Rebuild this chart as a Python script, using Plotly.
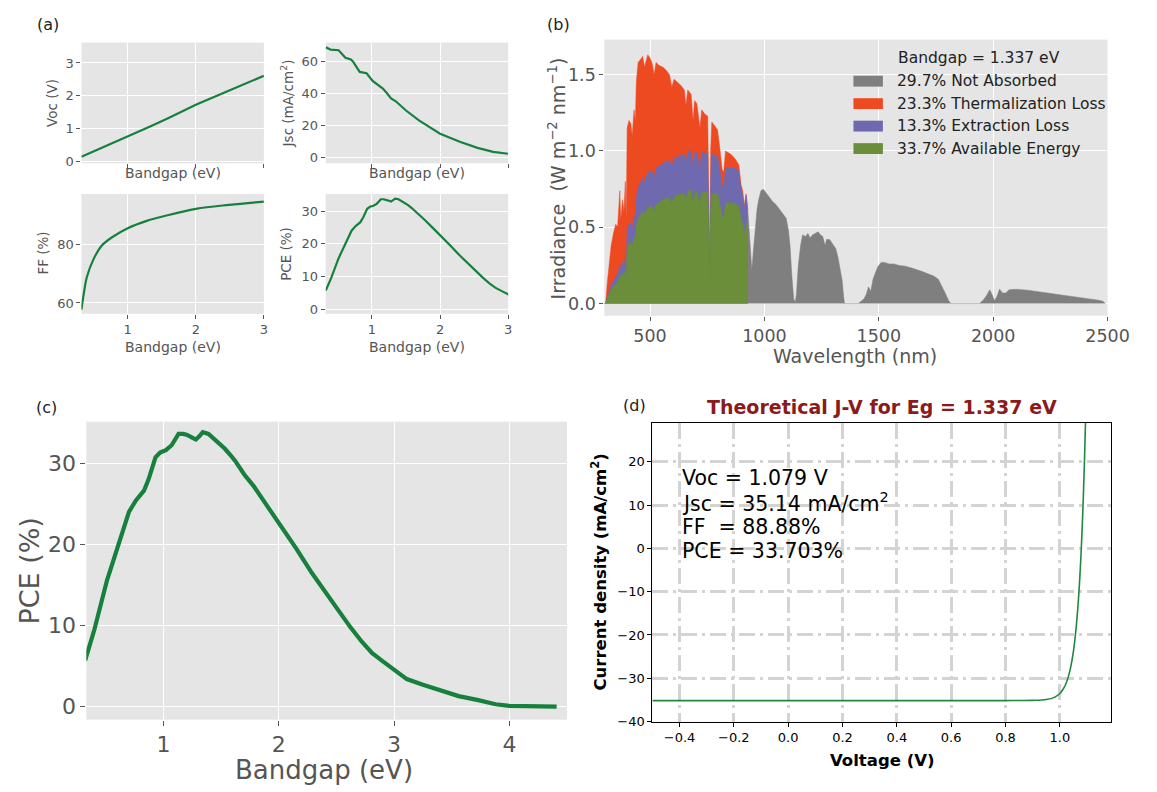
import plotly.graph_objects as go

W, H = 1157, 792
def fx(p): return p / W
def fy(p): return 1 - p / H

FONT = "DejaVu Sans"
GREY_TXT = "#555555"
BG = "#E5E5E5"

# ---------------- data: panel (a) ----------------
eg_voc = [0.32, 0.6, 1.0, 1.337, 1.6, 2.0, 2.5, 3.0]
voc = [0.15, 0.40, 0.77, 1.079, 1.33, 1.73, 2.17, 2.61]

eg_jsc = [0.32, 0.39, 0.51, 0.55, 0.61, 0.69, 0.72, 0.82, 0.88, 0.92, 1.01, 1.09,
          1.16, 1.22, 1.28, 1.35, 1.5, 1.69, 2.0, 2.3, 2.55, 2.78, 3.0]
jsc = [68.9, 67.4, 67.0, 65.0, 62.3, 61.2, 60.0, 53.4, 52.8, 52.6, 47.8, 45.1,
       43.0, 40.0, 36.8, 35.0, 29.2, 23.0, 14.7, 9.5, 5.8, 3.3, 2.1]

eg_ff = [0.32, 0.355, 0.40, 0.5, 0.62, 0.77, 1.0, 1.29, 1.53, 2.0, 2.49, 3.0]
ff = [57.7, 63.2, 68.9, 75.1, 79.7, 82.5, 85.6, 88.2, 89.7, 92.2, 93.6, 94.7]

eg_pce = [0.32, 0.40, 0.51, 0.62, 0.70, 0.76, 0.83, 0.87, 0.93, 0.97, 1.02, 1.07,
          1.10, 1.13, 1.17, 1.20, 1.24, 1.28, 1.31, 1.34, 1.39, 1.45, 1.53, 1.58,
          1.62, 1.70, 1.78, 1.90, 2.0, 2.15, 2.29, 2.45, 2.62, 2.72, 2.81, 2.90,
          3.0, 3.11, 3.25, 3.41, 3.56, 3.73, 3.88, 4.0, 4.2, 4.41]
pce = [5.7, 9.5, 15.6, 20.5, 24.0, 25.4, 26.6, 28.0, 30.7, 31.3, 31.6, 32.2,
       33.0, 33.6, 33.6, 33.5, 33.2, 32.9, 33.3, 33.8, 33.6, 32.9, 31.8, 31.0,
       30.3, 28.6, 27.2, 24.7, 22.7, 19.5, 16.4, 13.1, 9.8, 8.0, 6.6, 5.6,
       4.5, 3.4, 2.7, 2.0, 1.3, 0.8, 0.3, 0.1, 0.0, 0.0]

# ---------------- data: panel (b) ----------------
wl_abs = [300, 306, 312, 320, 330, 340, 350, 358, 362, 368, 372, 380, 386, 392, 396,
          400, 408, 416, 422, 430, 436, 440, 448, 458, 468, 476, 486, 490, 500, 510,
          518, 526, 540, 555, 570, 585, 595, 605, 620, 635, 650, 657, 665, 680, 688,
          695, 705, 718, 726, 740, 752, 758, 761, 765, 770, 785, 795, 805, 815, 822,
          830, 840, 852, 865, 876, 888, 898, 905, 912, 920, 927]
irr_total = [0, 0.0, 0.12, 0.22, 0.38, 0.46, 0.52, 0.50, 0.62, 0.74, 0.55, 0.68, 0.60, 0.80, 0.55,
             1.15, 1.20, 1.18, 1.10, 1.27, 1.20, 1.45, 1.58, 1.60, 1.62, 1.55, 1.62, 1.63, 1.61, 1.57,
             1.50, 1.58, 1.56, 1.55, 1.53, 1.50, 1.42, 1.47, 1.45, 1.43, 1.40, 1.30, 1.40, 1.37, 1.20,
             1.33, 1.31, 1.15, 1.27, 1.24, 1.23, 0.60, 0.25, 1.00, 1.19, 1.16, 1.14, 1.02, 0.88, 0.86,
             1.00, 0.99, 0.98, 0.96, 0.94, 0.91, 0.78, 0.74, 0.64, 0.72, 0.62]
irr_extract_top = [0, 0.0, 0.04, 0.08, 0.12, 0.15, 0.18, 0.19, 0.22, 0.26, 0.22, 0.27, 0.25, 0.30, 0.24,
                   0.50, 0.52, 0.53, 0.49, 0.58, 0.56, 0.70, 0.76, 0.79, 0.82, 0.80, 0.85, 0.86, 0.87, 0.86,
                   0.83, 0.89, 0.90, 0.92, 0.93, 0.94, 0.90, 0.95, 0.96, 0.97, 0.98, 0.92, 1.00, 1.00, 0.89,
                   0.99, 0.99, 0.89, 1.00, 0.98, 0.99, 0.49, 0.20, 0.82, 0.98, 0.97, 0.97, 0.88, 0.77, 0.76,
                   0.89, 0.89, 0.89, 0.89, 0.88, 0.87, 0.75, 0.72, 0.62, 0.71, 0.62]
irr_available = [0, 0.0, 0.03, 0.06, 0.09, 0.11, 0.13, 0.14, 0.16, 0.19, 0.16, 0.20, 0.19, 0.22, 0.18,
                 0.37, 0.39, 0.40, 0.37, 0.44, 0.42, 0.51, 0.56, 0.58, 0.60, 0.59, 0.62, 0.63, 0.64, 0.63,
                 0.61, 0.65, 0.66, 0.68, 0.69, 0.69, 0.66, 0.70, 0.71, 0.72, 0.72, 0.68, 0.74, 0.74, 0.66,
                 0.73, 0.73, 0.66, 0.73, 0.73, 0.73, 0.36, 0.15, 0.60, 0.72, 0.72, 0.72, 0.65, 0.57, 0.56,
                 0.66, 0.66, 0.66, 0.66, 0.65, 0.64, 0.56, 0.53, 0.46, 0.53, 0.46]

wl_na = [927, 935, 940, 945, 952, 960, 968, 975, 985, 995, 1005, 1020, 1035, 1050, 1065, 1080,
         1095, 1105, 1112, 1120, 1128, 1135, 1140, 1148, 1158, 1167, 1180, 1190, 1200, 1210, 1222,
         1235, 1245, 1255, 1265, 1272, 1285, 1300, 1312, 1322, 1332, 1340, 1346, 1350, 1410, 1420,
         1435, 1445, 1455, 1465, 1475, 1485, 1495, 1510, 1525, 1545, 1565, 1590, 1615, 1640, 1665,
         1690, 1715, 1740, 1760, 1775, 1790, 1805, 1815, 1940, 1955, 1970, 1985, 1995, 2005, 2015,
         2028, 2040, 2055, 2070, 2100, 2150, 2200, 2250, 2300, 2350, 2400, 2430, 2460, 2480, 2490]
irr_na = [0.62, 0.45, 0.30, 0.22, 0.35, 0.50, 0.62, 0.68, 0.74, 0.75, 0.73, 0.70, 0.67, 0.65, 0.62, 0.59,
          0.56, 0.48, 0.38, 0.18, 0.03, 0.01, 0.06, 0.25, 0.38, 0.45, 0.44, 0.46, 0.43, 0.45, 0.46,
          0.47, 0.45, 0.44, 0.38, 0.42, 0.42, 0.39, 0.36, 0.30, 0.22, 0.15, 0.05, 0.0, 0.0, 0.01,
          0.03, 0.06, 0.11, 0.08, 0.16, 0.20, 0.24, 0.27, 0.27, 0.26, 0.26, 0.25, 0.245, 0.235, 0.225,
          0.21, 0.195, 0.18, 0.16, 0.12, 0.07, 0.02, 0.0, 0.0, 0.02, 0.05, 0.09, 0.06, 0.02, 0.04,
          0.095, 0.07, 0.07, 0.09, 0.094, 0.088, 0.078, 0.066, 0.057, 0.045, 0.034, 0.03, 0.022, 0.015, 0.0]

legend_labels = ["29.7% Not Absorbed", "23.3% Thermalization Loss",
                 "13.3% Extraction Loss", "33.7% Available Energy"]
legend_colors = ["#7f7f7f", "#ee4a22", "#6f6ab0", "#6b8e3a"]

# ---------------- data: panel (d) ----------------
volt = [-0.5, 0.8, 0.9, 0.95, 0.98, 1.0, 1.01, 1.02, 1.03, 1.04, 1.05, 1.06, 1.07,
        1.079, 1.085, 1.09, 1.095, 1.1]
jdens = [-35.14, -35.14, -35.1, -34.9, -34.4, -33.5, -32.7, -31.6, -29.9, -27.4, -23.8,
         -18.3, -10.4, 0.0, 9.3, 18.8, 30.3, 44.3]
jv_text = ["Voc = 1.079 V", "Jsc = 35.14 mA/cm<sup>2</sup>", "FF  = 88.88%", "PCE = 33.703%"]

LINE_GREEN = "#17803d"

fig = go.Figure()

fig.add_trace(go.Scatter(x=eg_voc, y=voc, mode="lines", line=dict(color=LINE_GREEN, width=2.2),
                         xaxis="x", yaxis="y", showlegend=False))
fig.add_trace(go.Scatter(x=eg_jsc, y=jsc, mode="lines", line=dict(color=LINE_GREEN, width=2.2),
                         xaxis="x2", yaxis="y2", showlegend=False))
fig.add_trace(go.Scatter(x=eg_ff, y=ff, mode="lines", line=dict(color=LINE_GREEN, width=2.2, shape="spline"),
                         xaxis="x3", yaxis="y3", showlegend=False))
fig.add_trace(go.Scatter(x=eg_pce, y=pce, mode="lines", line=dict(color=LINE_GREEN, width=2.2),
                         xaxis="x4", yaxis="y4", showlegend=False))

fig.add_trace(go.Scatter(x=wl_na, y=irr_na, mode="lines", fill="tozeroy", fillcolor=legend_colors[0],
                         line=dict(color=legend_colors[0], width=0.5), xaxis="x5", yaxis="y5", showlegend=False))
fig.add_trace(go.Scatter(x=wl_abs, y=irr_total, mode="lines", fill="tozeroy", fillcolor=legend_colors[1],
                         line=dict(color=legend_colors[1], width=0.5), xaxis="x5", yaxis="y5", showlegend=False))
fig.add_trace(go.Scatter(x=wl_abs, y=irr_extract_top, mode="lines", fill="tozeroy", fillcolor=legend_colors[2],
                         line=dict(color=legend_colors[2], width=0.5), xaxis="x5", yaxis="y5", showlegend=False))
fig.add_trace(go.Scatter(x=wl_abs, y=irr_available, mode="lines", fill="tozeroy", fillcolor=legend_colors[3],
                         line=dict(color=legend_colors[3], width=0.5), xaxis="x5", yaxis="y5", showlegend=False))

fig.add_trace(go.Scatter(x=eg_pce, y=pce, mode="lines", line=dict(color=LINE_GREEN, width=4.2),
                         xaxis="x6", yaxis="y6", showlegend=False))

fig.add_trace(go.Scatter(x=volt, y=jdens, mode="lines", line=dict(color="#21883f", width=1.6, shape="spline"),
                         xaxis="x7", yaxis="y7", showlegend=False))


def gg_axis(dom, rng, tick_size, **kw):
    d = dict(domain=dom, range=rng, showgrid=True, gridcolor="white", gridwidth=1.1,
             zeroline=False, showline=False, ticks="outside", ticklen=4, tickwidth=1,
             tickcolor=GREY_TXT, tickfont=dict(family=FONT, size=tick_size, color=GREY_TXT))
    d.update(kw)
    return d

box = {
    "voc": (83, 269, 43, 165),
    "jsc": (332, 518, 43, 165),
    "ff": (83, 269, 196, 317),
    "pa": (332, 518, 196, 317),
    "b": (616, 1129, 40, 319),
    "c": (88, 578, 426, 727),
    "d": (665, 1133, 427, 729),
}
def xd(k): return [fx(box[k][0]), fx(box[k][1])]
def yd(k): return [fy(box[k][3]), fy(box[k][2])]

layout = dict(
    width=W, height=H, autosize=False, margin=dict(l=0, r=0, t=0, b=0, pad=0),
    paper_bgcolor="white", plot_bgcolor=BG, showlegend=False,
    font=dict(family=FONT),
    xaxis=gg_axis(xd("voc"), [0.32, 3.0], 13, anchor="y", tickvals=[1, 2, 3], showticklabels=False),
    yaxis=gg_axis(yd("voc"), [-0.05, 3.62], 13, anchor="x", tickvals=[0, 1, 2, 3]),
    xaxis2=gg_axis(xd("jsc"), [0.32, 3.0], 13, anchor="y2", tickvals=[1, 2, 3], showticklabels=False),
    yaxis2=gg_axis(yd("jsc"), [-3.9, 71.8], 13, anchor="x2", tickvals=[0, 20, 40, 60]),
    xaxis3=gg_axis(xd("ff"), [0.32, 3.0], 13, anchor="y3", tickvals=[1, 2, 3]),
    yaxis3=gg_axis(yd("ff"), [56.3, 97.3], 13, anchor="x3", tickvals=[60, 80]),
    xaxis4=gg_axis(xd("pa"), [0.32, 3.0], 13, anchor="y4", tickvals=[1, 2, 3]),
    yaxis4=gg_axis(yd("pa"), [-1.4, 35.2], 13, anchor="x4", tickvals=[0, 10, 20, 30]),
    xaxis5=gg_axis(xd("b"), [300, 2500], 17.5, anchor="y5", tickvals=[500, 1000, 1500, 2000, 2500]),
    yaxis5=gg_axis(yd("b"), [-0.08, 1.73], 17.5, anchor="x5", tickvals=[0, 0.5, 1.0, 1.5], tickformat=".1f"),
    xaxis6=gg_axis(xd("c"), [0.33, 4.5], 22, anchor="y6", tickvals=[1, 2, 3, 4], ticklen=5),
    yaxis6=gg_axis(yd("c"), [-1.6, 35.1], 22, anchor="x6", tickvals=[0, 10, 20, 30], ticklen=5),
    xaxis7=dict(domain=xd("d"), range=[-0.5, 1.19], anchor="y7",
                tickvals=[-0.4, -0.2, 0.0, 0.2, 0.4, 0.6, 0.8, 1.0], tickformat=".1f",
                showgrid=True, gridcolor="#d3d3d3", gridwidth=3, griddash="16px,5px,3px,5px",
                zeroline=False, showline=True, mirror=True, linecolor="black", linewidth=1,
                ticks="outside", ticklen=4, tickcolor="black",
                tickfont=dict(family=FONT, size=13, color="black")),
    yaxis7=dict(domain=yd("d"), range=[-40, 29], anchor="x7", dtick=10, tick0=0,
                showgrid=True, gridcolor="#d3d3d3", gridwidth=3, griddash="16px,5px,3px,5px",
                zeroline=False, showline=True, mirror=True, linecolor="black", linewidth=1,
                ticks="outside", ticklen=4, tickcolor="black",
                tickfont=dict(family=FONT, size=13, color="black")),
)

shapes = []
l, r, t, b = box["d"]
shapes.append(dict(type="rect", xref="paper", yref="paper", x0=fx(l), x1=fx(r), y0=fy(b), y1=fy(t),
                   fillcolor="white", line=dict(width=0), layer="below"))

annotations = []
def ann(text, x, y, size, color=GREY_TXT, angle=0, xanchor="center", yanchor="middle", bold=False):
    if bold:
        text = "<b>" + text + "</b>"
    annotations.append(dict(text=text, x=fx(x), y=fy(y), xref="paper", yref="paper",
                            showarrow=False, textangle=angle, xanchor=xanchor, yanchor=yanchor,
                            font=dict(family=FONT, size=size, color=color)))

ann("(a)", 49, 25, 16, color="#222222")
ann("(b)", 569, 25, 16, color="#222222")
ann("(c)", 47, 412, 16, color="#222222")
ann("(d)", 647, 410, 16, color="#222222")

ann("Voc (V)", 53, 104, 13.5, angle=-90)
ann("Jsc (mA/cm<sup>2</sup>)", 293, 104, 13.5, angle=-90)
ann("FF (%)", 44, 256, 13.5, angle=-90)
ann("PCE (%)", 292, 256, 13.5, angle=-90)
ann("Bandgap (eV)", 176, 175, 14)
ann("Bandgap (eV)", 425, 175, 14)
ann("Bandgap (eV)", 176, 351, 14)
ann("Bandgap (eV)", 425, 351, 14)

ann("Irradiance &nbsp;(W m<sup>\u22122</sup> nm<sup>\u22121</sup>)", 568, 180, 19, angle=-90)
ann("Wavelength (nm)", 872, 360, 19)

ann("Bandgap = 1.337 eV", 913, 59, 15.5, color="#222222", xanchor="left")
for i, (lab, col) in enumerate(zip(legend_labels, legend_colors)):
    yc = 82 + i * 22.7
    shapes.append(dict(type="rect", xref="paper", yref="paper", x0=fx(870), x1=fx(900),
                       y0=fy(yc + 5.5), y1=fy(yc - 5.5), fillcolor=col, line=dict(width=0)))
    ann(lab, 912, yc, 15.5, color="#222222", xanchor="left")

ann("PCE (%)", 30, 576, 27, angle=-90)
ann("Bandgap (eV)", 330, 778, 26)

ann("Theoretical J-V for Eg = 1.337 eV", 899, 411, 19, color="#8b1a1a", bold=True)
ann("Current density (mA/cm<sup>2</sup>)", 611, 578, 16.5, color="black", angle=-90, bold=True)
ann("Voltage (V)", 899, 768, 16.5, color="black", bold=True)
for i, s in enumerate(jv_text):
    ann(s, 693, 483 + i * 24.7, 20.5, color="black", xanchor="left")

layout["shapes"] = shapes
layout["annotations"] = annotations
fig.update_layout(**layout)
fig.write_html("out.html")
